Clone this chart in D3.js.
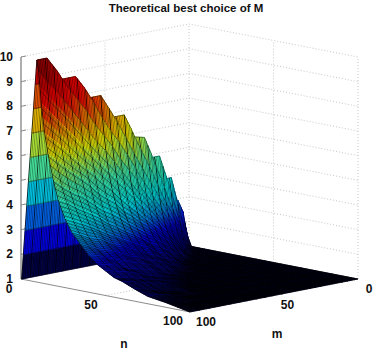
<!DOCTYPE html>
<html>
<head>
<meta charset="utf-8">
<script src="https://cdn.jsdelivr.net/npm/d3@7"></script>
<style>
html, body { margin: 0; padding: 0; background: #fff; }
svg { display: block; }
text { font-family: "Liberation Sans", sans-serif; font-weight: bold; fill: #111; }
</style>
</head>
<body>
<svg id="chart" width="374" height="351"></svg>
<script>
// axis ticks
var zTicks = [1, 2, 3, 4, 5, 6, 7, 8, 9, 10];
var nTicks = [0, 50, 100];
var mTicks = [0, 50, 100];

// surface samples. one row in zGrid for each mGrid value
var nGrid = [0.4, 1.4, 2.4, 3.4, 4.4, 5.4, 6.4, 7.4, 8.4, 9.4, 10.4, 12, 14, 16, 19, 22, 26, 30, 35, 40, 45, 50, 55, 60, 67, 75, 85, 100];
var mGrid = [0, 2, 4, 6, 9, 14, 17, 22, 25, 28, 32, 38, 41, 45, 51, 55, 60, 66, 71, 76, 83, 88, 94, 100];
var zGrid = [
    [1, 1, 1, 1, 1, 1, 1, 1, 1, 1, 1, 1, 1, 1, 1, 1, 1, 1, 1, 1, 1, 1, 1, 1, 1, 1, 1, 1],
    [1, 1.4, 1, 1, 1, 1, 1, 1, 1, 1, 1, 1, 1, 1, 1, 1, 1, 1, 1, 1, 1, 1, 1, 1, 1, 1, 1, 1],
    [1, 2, 1.7, 1.2, 1, 1, 1, 1, 1, 1, 1, 1, 1, 1, 1, 1, 1, 1, 1, 1, 1, 1, 1, 1, 1, 1, 1, 1],
    [1, 2, 2.5, 1.8, 1.4, 1.1, 1, 1, 1, 1, 1, 1, 1, 1, 1, 1, 1, 1, 1, 1, 1, 1, 1, 1, 1, 1, 1, 1],
    [1, 2, 3, 2.6, 2, 1.7, 1.4, 1.2, 1.1, 1, 1, 1, 1, 1, 1, 1, 1, 1, 1, 1, 1, 1, 1, 1, 1, 1, 1, 1],
    [1, 2, 3, 4, 3.2, 2.6, 2.2, 1.9, 1.7, 1.5, 1.3, 1.2, 1, 1, 1, 1, 1, 1, 1, 1, 1, 1, 1, 1, 1, 1, 1, 1],
    [1, 2, 3, 4, 3.9, 3.1, 2.7, 2.3, 2, 1.8, 1.6, 1.4, 1.2, 1.1, 1, 1, 1, 1, 1, 1, 1, 1, 1, 1, 1, 1, 1, 1],
    [1, 2, 3, 4, 5, 4.1, 3.4, 3, 2.6, 2.3, 2.1, 1.8, 1.6, 1.4, 1.2, 1, 1, 1, 1, 1, 1, 1, 1, 1, 1, 1, 1, 1],
    [1, 2, 3, 4, 5, 4.6, 3.9, 3.4, 3, 2.7, 2.4, 2.1, 1.8, 1.6, 1.3, 1.1, 1, 1, 1, 1, 1, 1, 1, 1, 1, 1, 1, 1],
    [1, 2, 3, 4, 5, 5.2, 4.4, 3.8, 3.3, 3, 2.7, 2.3, 2, 1.8, 1.5, 1.3, 1.1, 1, 1, 1, 1, 1, 1, 1, 1, 1, 1, 1],
    [1, 2, 3, 4, 5, 5.9, 5, 4.3, 3.8, 3.4, 3.1, 2.7, 2.3, 2, 1.7, 1.5, 1.2, 1.1, 1, 1, 1, 1, 1, 1, 1, 1, 1, 1],
    [1, 2, 3, 4, 5, 6, 5.9, 5.1, 4.5, 4, 3.7, 3.2, 2.7, 2.4, 2, 1.7, 1.5, 1.3, 1.1, 1, 1, 1, 1, 1, 1, 1, 1, 1],
    [1, 2, 3, 4, 5, 6, 6.4, 5.5, 4.9, 4.4, 3.9, 3.4, 2.9, 2.6, 2.2, 1.9, 1.6, 1.4, 1.2, 1, 1, 1, 1, 1, 1, 1, 1, 1],
    [1, 2, 3, 4, 5, 6, 7, 6.1, 5.4, 4.8, 4.3, 3.8, 3.2, 2.8, 2.4, 2, 1.7, 1.5, 1.3, 1.1, 1, 1, 1, 1, 1, 1, 1, 1],
    [1, 2, 3, 4, 5, 6, 7, 6.9, 6.1, 5.4, 4.9, 4.3, 3.6, 3.2, 2.7, 2.3, 2, 1.7, 1.5, 1.3, 1.1, 1, 1, 1, 1, 1, 1, 1],
    [1, 2, 3, 4, 5, 6, 7, 7.4, 6.5, 5.9, 5.3, 4.6, 3.9, 3.4, 2.9, 2.5, 2.1, 1.8, 1.6, 1.4, 1.2, 1.1, 1, 1, 1, 1, 1, 1],
    [1, 2, 3, 4, 5, 6, 7, 8, 7.1, 6.4, 5.8, 5, 4.3, 3.8, 3.2, 2.7, 2.3, 2, 1.7, 1.5, 1.3, 1.2, 1.1, 1, 1, 1, 1, 1],
    [1, 2, 3, 4, 5, 6, 7, 8, 7.9, 7, 6.3, 5.5, 4.7, 4.1, 3.5, 3, 2.5, 2.2, 1.9, 1.7, 1.5, 1.3, 1.2, 1.1, 1, 1, 1, 1],
    [1, 2, 3, 4, 5, 6, 7, 8, 8.5, 7.6, 6.8, 5.9, 5.1, 4.4, 3.7, 3.2, 2.7, 2.4, 2, 1.8, 1.6, 1.4, 1.3, 1.2, 1.1, 1, 1, 1],
    [1, 2, 3, 4, 5, 6, 7, 8, 9, 8.1, 7.3, 6.3, 5.4, 4.8, 4, 3.5, 2.9, 2.5, 2.2, 1.9, 1.7, 1.5, 1.4, 1.3, 1.1, 1, 1, 1],
    [1, 2, 3, 4, 5, 6, 7, 8, 9, 8.8, 8, 6.9, 5.9, 5.2, 4.4, 3.8, 3.2, 2.8, 2.4, 2.1, 1.8, 1.7, 1.5, 1.4, 1.2, 1.1, 1, 1],
    [1, 2, 3, 4, 5, 6, 7, 8, 9, 9.4, 8.5, 7.3, 6.3, 5.5, 4.6, 4, 3.4, 2.9, 2.5, 2.2, 2, 1.8, 1.6, 1.5, 1.3, 1.2, 1, 1],
    [1, 2, 3, 4, 5, 6, 7, 8, 9, 10, 9, 7.8, 6.7, 5.9, 4.9, 4.3, 3.6, 3.1, 2.7, 2.4, 2.1, 1.9, 1.7, 1.6, 1.4, 1.3, 1.1, 1],
    [1, 2, 3, 4, 5, 6, 7, 8, 9, 10, 9.6, 8.3, 7.1, 6.3, 5.3, 4.5, 3.8, 3.3, 2.9, 2.5, 2.2, 2, 1.8, 1.7, 1.5, 1.3, 1.2, 1]
];

var jetColors = ["#000028", "#000090", "#0000ff", "#00ffff", "#ffff00", "#ff0000", "#800000"];

var svg = d3.select("#chart");

var cs = {
    back: { x: 189, y: 246 },
    grid: "#c8c8c8",
    axis: "#8c8c8c"
};

// oblique view: n runs down-right, m runs down-left, z runs straight up
cs.nx = d3.scaleLinear().domain([0, 100]).range([0, 169]);
cs.ny = d3.scaleLinear().domain([0, 100]).range([0, 33]);
cs.mx = d3.scaleLinear().domain([0, 100]).range([0, -168]);
cs.my = d3.scaleLinear().domain([0, 100]).range([0, 33]);
cs.zy = d3.scaleLinear().domain([1, 10]).range([0, -222]);
cs.color = d3.scaleLinear()
    .domain([1, 1.3, 2.15, 4.4, 6.65, 8.9, 10])
    .range(jetColors);
// the sloped part reads a little warmer than its height
cs.slopeLevel = d3.scaleLinear()
    .domain([1, 2.2, 2.9, 3.6, 4.9, 8, 9, 10])
    .range([1, 2.1, 3.6, 4.4, 5.1, 8.6, 9.3, 10]);

var project = function (n, m, z) {
    return [
        cs.back.x + cs.nx(n) + cs.mx(m),
        cs.back.y + cs.ny(n) + cs.my(m) + cs.zy(z)
    ];
};
var line = d3.line();

// back walls and floor
var gridLayer = svg.append("g")
    .attr("fill", "none")
    .attr("stroke", cs.grid)
    .attr("stroke-width", 1)
    .attr("stroke-dasharray", "1 2");

zTicks.forEach(function (z) {
    gridLayer.append("path").attr("d", line([project(0, 100, z), project(0, 0, z), project(100, 0, z)]));
});
[[0, 50], [0, 0], [50, 0], [100, 0]].forEach(function (p) {
    gridLayer.append("path").attr("d", line([project(p[0], p[1], 1), project(p[0], p[1], 10)]));
});
gridLayer.append("path").attr("d", line([project(50, 100, 1), project(50, 0, 1)]));
gridLayer.append("path").attr("d", line([project(0, 50, 1), project(100, 50, 1)]));

// front axes
var axisLayer = svg.append("g")
    .attr("fill", "none")
    .attr("stroke", cs.axis);
axisLayer.append("path").attr("d", line([project(0, 100, 1), project(0, 100, 10)])).attr("stroke-width", 1.4);
axisLayer.append("path").attr("d", line([project(0, 100, 1), project(100, 100, 1), project(100, 0, 1)]));
zTicks.forEach(function (z) {
    var p = project(0, 100, z);
    axisLayer.append("path").attr("d", line([p, [p[0] + 5, p[1] - 1]]));
});

// surface cells, far ones first
var cells = [];
mGrid.slice(1).forEach(function (_, j) {
    nGrid.slice(1).forEach(function (_, i) {
        cells.push({ i: i, j: j, depth: nGrid[i] + nGrid[i + 1] + mGrid[j] + mGrid[j + 1] });
    });
});
cells.sort(function (a, b) { return a.depth - b.depth; });

var cellZ = function (c, n, m) {
    var tn = (n - nGrid[c.i]) / (nGrid[c.i + 1] - nGrid[c.i]),
        tm = (m - mGrid[c.j]) / (mGrid[c.j + 1] - mGrid[c.j]);
    var z0 = zGrid[c.j][c.i] + (zGrid[c.j][c.i + 1] - zGrid[c.j][c.i]) * tn,
        z1 = zGrid[c.j + 1][c.i] + (zGrid[c.j + 1][c.i + 1] - zGrid[c.j + 1][c.i]) * tn;
    return z0 + (z1 - z0) * tm;
};

var quad = function (n0, n1, m0, m1, c) {
    return line([
        project(n0, m0, cellZ(c, n0, m0)),
        project(n1, m0, cellZ(c, n1, m0)),
        project(n1, m1, cellZ(c, n1, m1)),
        project(n0, m1, cellZ(c, n0, m1))
    ]) + "Z";
};

var surface = svg.append("g");
cells.forEach(function (c) {
    var n0 = nGrid[c.i], n1 = nGrid[c.i + 1], m0 = mGrid[c.j], m1 = mGrid[c.j + 1];
    var z00 = zGrid[c.j][c.i], z01 = zGrid[c.j][c.i + 1], z10 = zGrid[c.j + 1][c.i], z11 = zGrid[c.j + 1][c.i + 1];

    // rising side: flat bands, one colour per cell
    if (z01 - z00 === 1 && z11 - z10 === 1) {
        var band = cs.color((z00 + z01 + z10 + z11) / 4 - 0.4);
        surface.append("path").attr("d", quad(n0, n1, m0, m1, c))
            .attr("fill", band).attr("stroke", band).attr("stroke-width", 0.5);
    } else {
        // sloped side: shade inside the cell so the colour runs smoothly
        var flat = Math.max(z00, z01, z10, z11) - Math.min(z00, z01, z10, z11) < 0.05;
        var nSteps = flat ? 1 : Math.min(4, Math.ceil((n1 - n0) / 1.5)),
            mSteps = flat ? 1 : Math.min(4, Math.ceil((m1 - m0) / 2));
        d3.range(mSteps).forEach(function (b) {
            d3.range(nSteps).forEach(function (a) {
                var na = n0 + (n1 - n0) * a / nSteps, nb = n0 + (n1 - n0) * (a + 1) / nSteps,
                    ma = m0 + (m1 - m0) * b / mSteps, mb = m0 + (m1 - m0) * (b + 1) / mSteps;
                var col = cs.color(cs.slopeLevel(cellZ(c, (na + nb) / 2, (ma + mb) / 2)));
                surface.append("path").attr("d", quad(na, nb, ma, mb, c))
                    .attr("fill", col).attr("stroke", col).attr("stroke-width", 0.5);
            });
        });
    }

    // the mesh of the original surface, one line per unit of n and m
    var fine = "", bold = "";
    d3.range(Math.ceil(m0), m1 + 0.001, 1).forEach(function (m) {
        var seg = line([project(n0, m, cellZ(c, n0, m)), project(n1, m, cellZ(c, n1, m))]);
        if (m % 5 === 0) bold += seg; else fine += seg;
    });
    d3.range(Math.ceil(n0 - 0.4) + 0.4, n1 + 0.001, 1).forEach(function (n) {
        fine += line([project(n, m0, cellZ(c, n, m0)), project(n, m1, cellZ(c, n, m1))]);
    });
    surface.append("path").attr("d", fine)
        .attr("fill", "none").attr("stroke", "#000").attr("stroke-width", 0.42);
    surface.append("path").attr("d", bold)
        .attr("fill", "none").attr("stroke", "#000").attr("stroke-width", 0.8);
});

// labels
svg.append("text")
    .attr("x", 186).attr("y", 12)
    .attr("text-anchor", "middle")
    .attr("font-size", 11.5)
    .text("Theoretical best choice of M");

zTicks.forEach(function (z) {
    var p = project(0, 100, z);
    svg.append("text")
        .attr("x", p[0] - 8).attr("y", p[1] + (z === 1 ? 3.5 : 4))
        .attr("text-anchor", "end")
        .attr("font-size", 12)
        .text(z);
});
nTicks.forEach(function (n) {
    var p = project(n, 100, 1);
    svg.append("text")
        .attr("x", p[0] - 12 - n * 0.05).attr("y", p[1] + 14 - n * 0.01)
        .attr("text-anchor", "middle")
        .attr("font-size", 12)
        .text(n);
});
mTicks.forEach(function (m) {
    var p = project(100, m, 1);
    svg.append("text")
        .attr("x", p[0] + 11 + m * 0.05).attr("y", p[1] + 13.5)
        .attr("text-anchor", "middle")
        .attr("font-size", 12)
        .text(m);
});
svg.append("text").attr("x", 124).attr("y", 348).attr("text-anchor", "middle").attr("font-size", 12).text("n");
svg.append("text").attr("x", 277).attr("y", 338).attr("text-anchor", "middle").attr("font-size", 12).text("m");
</script>
</body>
</html>
